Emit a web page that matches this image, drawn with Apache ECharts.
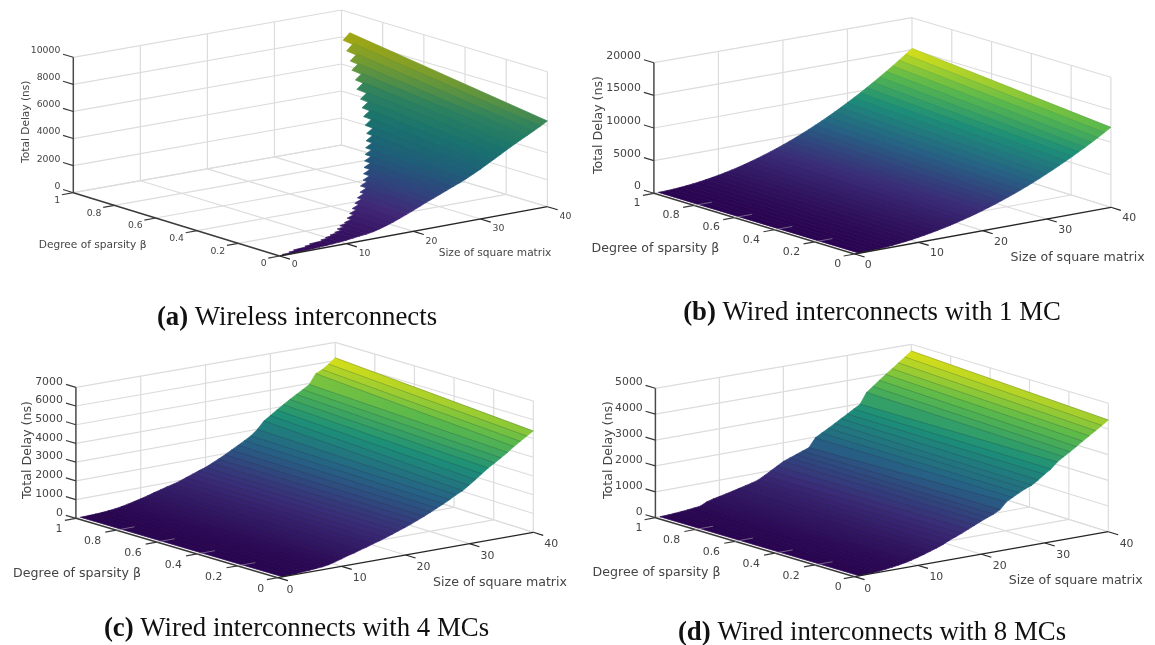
<!DOCTYPE html>
<html>
<head>
<meta charset="utf-8">
<title>Total delay surfaces</title>
<style>html,body{margin:0;padding:0;background:#fff}#chart{width:1155px;height:645px}</style>
<script src="https://cdn.jsdelivr.net/npm/echarts@6/dist/echarts.min.js"></script>
</head>
<body>
<div id="chart"></div>
<script>
// ---------- data ----------
var sizes = [0.7,2,3,4,5,6,7,8,9,10,11,12,13,14,15,16,17,18,19,20,21,22,23,24,25,26,27,28,29,30,31,32,33,34,35,36,37,38,39,40];
var sizeTicks = [0,10,20,30,40];
var betaTicks = [0,0.2,0.4,0.6,0.8,1];

// Panel (a) wireless: the surface only exists up to a largest beta for each size
var wirelessBetaMax = [.01,.01,.02,.03,.03,.04,.05,.05,.06,.07,.08,.09,.11,.13,.14,.16,.18,.20,.22,.24,.26,.29,.31,.34,.37,.40,.43,.46,.49,.52,.56,.60,.64,.68,.73,.77,.82,.86,.91,.96];
var wirelessLow = [5,15,35,60,85,110,140,170,215,260,320,380,430,520,640,790,960,1150,1340,1550,1760,1970,2170,2370,2570,2770,2970,3190,3430,3680,3950,4220,4490,4770,5040,5300,5550,5800,6070,6350];
var wirelessHigh = [5,15,35,60,85,110,140,172,217,268,330,395,450,545,684,844,1029,1236,1451,1684,1920,2167,2407,2650,2900,3158,3419,3706,4030,4360,4730,5109,5480,5886,6310,6715,7122,7559,8030,8500];

// Panel (b) wired, 1 MC
var wired1Low = [8,30,70,125,190,275,375,490,620,770,930,1110,1300,1510,1730,1970,2220,2490,2770,3070,3390,3720,4060,4430,4800,5190,5600,6020,6460,6920,7390,7870,8370,8880,9410,9950,10510,11080,11680,12300];
var wired1High = [10,38,85,152,238,342,466,608,770,950,1150,1368,1606,1862,2138,2432,2746,3078,3430,3800,4190,4598,5026,5472,5938,6422,6926,7448,7990,8550,9130,9728,10346,10982,11638,12312,13006,13718,14450,15200];

// Panel (c) wired, 4 MCs
var wired4Low = [10,25,45,70,95,125,155,210,300,400,510,590,700,790,900,1000,1110,1230,1350,1470,1600,1740,1880,2040,2200,2360,2530,2720,2880,3110,3350,3600,3850,4060,4270,4500,4750,4970,5190,5400];
var wired4High = [10,20,30,50,80,115,170,240,320,400,490,590,680,780,860,960,1090,1210,1340,1450,1610,1770,1940,2130,2320,2510,2710,3000,3390,3620,3860,4090,4310,4520,4720,4940,5470,5630,5870,6150];

// Panel (d) wired, 8 MCs
var wired8Low = [5,15,30,50,80,110,150,195,250,320,390,470,550,640,760,850,950,1060,1170,1280,1380,1470,1600,1860,1990,2120,2240,2330,2490,2670,2830,3060,3220,3370,3530,3700,3860,4020,4180,4350];
var wired8High = [5,15,30,50,70,95,125,240,310,360,415,470,530,590,650,720,850,990,1130,1270,1360,1450,1540,1630,1970,2110,2250,2390,2540,2680,2830,2980,3400,3590,3790,3980,4160,4350,4540,4735];

var zTicksA = [0,2000,4000,6000,8000,10000];
var zTicksB = [0,5000,10000,15000,20000];
var zTicksC = [0,1000,2000,3000,4000,5000,6000,7000];
var zTicksD = [0,1000,2000,3000,4000,5000];

var sizeTitle = 'Size of square matrix';
var betaTitle = 'Degree of sparsity \u03b2';
var zTitle = 'Total Delay (ns)';

// ---------- colour ramps (position, colour) ----------
var rampOlive = [[0,[50,10,90]],[.15,[65,40,120]],[.28,[45,70,125]],[.4,[30,95,120]],[.55,[25,115,110]],[.7,[45,130,95]],[.85,[115,155,50]],[1,[172,170,12]]];
var rampYellow = [[0,[42,4,82]],[.2,[58,44,120]],[.4,[38,98,133]],[.6,[28,143,120]],[.8,[92,186,75]],[1,[225,225,20]]];

// ---------- panels: view geometry and styling ----------
var panels = [
 {low:wirelessLow, high:wirelessHigh, betaMax:wirelessBetaMax, zTicks:zTicksA, ramp:rampOlive, rowAlpha:.05, stubs:false,
  o:[279.6,256], s:[547.4,206.7], b:[73.3,192.7], k:[341.5,145],
  bt:[73.3,57.3], kt:[341.5,10], st:[547.4,71.7],
  rect:[0,0,577,290], tickFont:9.3, titleFont:10.6,
  zOff:[-13,-6.5], sOff:[18,10], s0Off:[15,9], bOff:[-20.5,8], bIntOff:[-16,8],
  zPos:[25.9,121.7], bPos:[92.6,245], sPos:[495,253.3]},
 {low:wired1Low, high:wired1High, zTicks:zTicksB, ramp:rampYellow, rowAlpha:.10, stubs:true,
  o:[854.6,254], s:[1110.9,207.3], b:[653.9,193.3], k:[912,145.7],
  bt:[653.9,62.7], kt:[912,17.7], st:[1110.9,77.3],
  rect:[577,0,578,290], tickFont:10.9, titleFont:12.6,
  zOff:[-13,-6.7], sOff:[18.3,11.3], s0Off:[13.7,11], bOff:[-23,10], bIntOff:[-17,10],
  zPos:[599,125], bPos:[655.4,248.3], sPos:[1077.6,257.3]},
 {low:wired4Low, high:wired4High, zTicks:zTicksC, ramp:rampYellow, rowAlpha:.22, stubs:true,
  o:[277.8,577.7], s:[533.3,532.3], b:[75.9,518.3], k:[335.2,470],
  bt:[75.9,387.3], kt:[335.2,342.3], st:[533.3,401],
  rect:[0,335,577,300], tickFont:10.9, titleFont:12.6,
  zOff:[-13,-5.6], sOff:[18,12.2], s0Off:[12.2,12.3], bOff:[-23.7,10.9], bIntOff:[-17,11],
  zPos:[27.8,450], bPos:[77,574], sPos:[500,582.3]},
 {low:wired8Low, high:wired8High, zTicks:zTicksD, ramp:rampYellow, rowAlpha:.22, stubs:true,
  o:[854.6,576.7], s:[1108.3,531.7], b:[655.4,517.7], k:[911.3,470],
  bt:[655.4,388.3], kt:[911.3,344.3], st:[1108.3,403.3],
  rect:[577,335,578,300], tickFont:10.9, titleFont:12.6,
  zOff:[-12.6,-6], sOff:[18.3,12], s0Off:[13,12.3], bOff:[-23.7,10.8], bIntOff:[-16.4,10.8],
  zPos:[608.3,450], bPos:[656.5,572.7], sPos:[1075.7,581]}
];

var captions = [
 {tag:'(a)', text:' Wireless interconnects', x:292, y:313},
 {tag:'(b)', text:' Wired interconnects with 1 MC', x:867, y:308},
 {tag:'(c)', text:' Wired interconnects with 4 MCs', x:291.5, y:624},
 {tag:'(d)', text:' Wired interconnects with 8 MCs', x:867, y:628}
];

// ---------- helpers ----------
function lerp(a,b,t){return a+(b-a)*t;}
function lerp2(a,b,t){return [lerp(a[0],b[0],t),lerp(a[1],b[1],t)];}
// map (size, beta, delay) of a panel to page position through the 8 corners of its box
function project(p,s,beta,z){
  var u=s/40, v=beta, w=z/p.zTicks[p.zTicks.length-1];
  var ot=[p.st[0]+p.bt[0]-p.kt[0], p.st[1]+p.bt[1]-p.kt[1]];
  var base=lerp2(lerp2(p.o,p.s,u),lerp2(p.b,p.k,u),v);
  var top=lerp2(lerp2(ot,p.st,u),lerp2(p.bt,p.kt,u),v);
  return lerp2(base,top,w);
}
function rampColor(ramp,t){
  t=Math.max(0,Math.min(1,t));
  for(var i=1;i<ramp.length;i++){
    if(t<=ramp[i][0]){
      var f=(t-ramp[i-1][0])/(ramp[i][0]-ramp[i-1][0]), a=ramp[i-1][1], b=ramp[i][1];
      return 'rgb('+Math.round(lerp(a[0],b[0],f))+','+Math.round(lerp(a[1],b[1],f))+','+Math.round(lerp(a[2],b[2],f))+')';
    }
  }
  return 'rgb('+ramp[ramp.length-1][1].join(',')+')';
}
function peak(p){return Math.max.apply(null,p.high.concat(p.low));}

var GRID='#dcdcdc', TEXT='#444';

function panelSeries(p,idx){
  var zMax=p.zTicks[p.zTicks.length-1];
  var out=[];
  function toPix(api,pt){return api.coord(pt);}

  // back walls and floor
  var wallLines=[];
  p.zTicks.forEach(function(z){ wallLines.push([0,1,z,40,1,z]); wallLines.push([40,1,z,40,0,z]); });
  sizeTicks.slice(1).forEach(function(s){ wallLines.push([s,1,0,s,1,zMax]); wallLines.push([s,0,0,s,1,0]); });
  betaTicks.slice(0,-1).forEach(function(b){ wallLines.push([40,b,0,40,b,zMax]); });
  betaTicks.slice(1).forEach(function(b){ wallLines.push([0,b,0,40,b,0]); });
  out.push({type:'custom',xAxisIndex:idx,yAxisIndex:idx,silent:true,animation:false,clip:false,z:1,
    data:wallLines,encode:{x:[],y:[]},
    renderItem:function(par,api){
      var a=toPix(api,project(p,api.value(0),api.value(1),api.value(2)));
      var b=toPix(api,project(p,api.value(3),api.value(4),api.value(5)));
      return {type:'line',shape:{x1:a[0],y1:a[1],x2:b[0],y2:b[1]},style:{stroke:GRID,lineWidth:1.2}};
    }});

  // surface rows, far rows first
  var rows=[];
  for(var i=sizes.length-1;i>=1;i--){
    var bm=p.betaMax?p.betaMax[i]:1;
    rows.push([sizes[i-1],sizes[i],p.low[i-1],p.low[i],p.high[i-1],p.high[i],bm]);
  }
  var zPeak=peak(p);
  out.push({type:'custom',xAxisIndex:idx,yAxisIndex:idx,silent:true,animation:false,clip:false,z:2,
    data:rows,encode:{x:[],y:[]},
    renderItem:function(par,api){
      var s0=api.value(0),s1=api.value(1),l0=api.value(2),l1=api.value(3),h0=api.value(4),h1=api.value(5),bm=api.value(6);
      var a=toPix(api,project(p,s0,0,l0)), b=toPix(api,project(p,s1,0,l1));
      var c=toPix(api,project(p,s1,bm,h1)), d=toPix(api,project(p,s0,bm,h0));
      var m0=(l0+l1)/2, m1=(h0+h1)/2, stops=[];
      for(var t=0;t<=4;t++){ stops.push({offset:t/4,color:rampColor(p.ramp,lerp(m0,m1,t/4)/zPeak)}); }
      var mx0=(a[0]+b[0])/2,my0=(a[1]+b[1])/2,mx1=(c[0]+d[0])/2,my1=(c[1]+d[1])/2;
      var grad=new echarts.graphic.LinearGradient(mx0,my0,mx1+.01,my1+.01,stops,true);
      return {type:'group',children:[
        {type:'polygon',shape:{points:[a,b,c,d]},style:{fill:grad,stroke:grad,lineWidth:.7}},
        {type:'line',shape:{x1:b[0],y1:b[1],x2:c[0],y2:c[1]},style:{stroke:'rgba(0,0,0,'+p.rowAlpha+')',lineWidth:.8}}
      ]};
    }});

  // axes, ticks and faint floor stubs that show through at the surface's low end
  var axisLines=[
    [0,1,0,0,1,zMax,'#4a4a4a',1.5],
    [0,0,0,40,0,0,'#262626',1.3],
    [0,0,0,0,1,0,'#3a3a3a',1.5]
  ];
  p.zTicks.forEach(function(z){axisLines.push([0,1,z,0,1.05,z,'#3a3a3a',1.2]);});
  sizeTicks.forEach(function(s){axisLines.push([s,0,0,s,-.05,0,'#262626',1.2]);});
  betaTicks.forEach(function(b){axisLines.push([0,b,0,-1.7,b,0,'#3a3a3a',1.2]);});
  if(p.stubs){betaTicks.slice(1,-1).forEach(function(b){axisLines.push([0,b,0,2.8,b,0,'rgba(190,190,190,.55)',.9]);});}
  out.push({type:'custom',xAxisIndex:idx,yAxisIndex:idx,silent:true,animation:false,clip:false,z:3,
    data:axisLines,encode:{x:[],y:[]},
    renderItem:function(par,api){
      var a=toPix(api,project(p,api.value(0),api.value(1),api.value(2)));
      var b=toPix(api,project(p,api.value(3),api.value(4),api.value(5)));
      return {type:'line',shape:{x1:a[0],y1:a[1],x2:b[0],y2:b[1]},style:{stroke:api.value(6),lineWidth:api.value(7)}};
    }});

  // tick labels
  var labels=[];
  p.zTicks.forEach(function(z){var q=project(p,0,1,z);labels.push({q:[q[0]+p.zOff[0],q[1]+p.zOff[1]],t:String(z),al:'right'});});
  sizeTicks.forEach(function(s){var q=project(p,s,0,0),o=s===0?p.s0Off:p.sOff;labels.push({q:[q[0]+o[0],q[1]+o[1]],t:String(s),al:'center'});});
  betaTicks.forEach(function(b){var q=project(p,0,b,0),o=(b===0||b===1)?p.bIntOff:p.bOff;labels.push({q:[q[0]+o[0],q[1]+o[1]],t:String(b),al:'center'});});
  out.push({type:'custom',xAxisIndex:idx,yAxisIndex:idx,silent:true,animation:false,clip:false,z:4,
    data:labels.map(function(l,i){return [l.q[0],l.q[1],i];}),encode:{x:0,y:1},
    renderItem:function(par,api){
      var c=toPix(api,[api.value(0),api.value(1)]), l=labels[api.value(2)];
      return {type:'text',x:c[0],y:c[1],style:{text:l.t,fill:TEXT,font:p.tickFont+'px "DejaVu Sans"',align:l.al,verticalAlign:'middle'}};
    }});

  // axis titles
  var titles=[{q:p.zPos,t:zTitle,r:Math.PI/2},{q:p.bPos,t:betaTitle,r:0},{q:p.sPos,t:sizeTitle,r:0}];
  out.push({type:'custom',xAxisIndex:idx,yAxisIndex:idx,silent:true,animation:false,clip:false,z:4,
    data:titles.map(function(l,i){return [l.q[0],l.q[1],i];}),encode:{x:0,y:1},
    renderItem:function(par,api){
      var c=toPix(api,[api.value(0),api.value(1)]), l=titles[api.value(2)];
      return {type:'text',x:c[0],y:c[1],rotation:l.r,style:{text:l.t,fill:TEXT,font:p.titleFont+'px "DejaVu Sans"',align:'center',verticalAlign:'middle'}};
    }});
  return out;
}

var series=[];
panels.forEach(function(p,i){series=series.concat(panelSeries(p,i));});

var option={
  backgroundColor:'#fff',
  animation:false,
  title:captions.map(function(c){
    return {text:'{b|'+c.tag+'}{n|'+c.text+'}',left:c.x,top:c.y,textAlign:'center',textVerticalAlign:'middle',
      textStyle:{fontWeight:'normal',rich:{
        b:{fontFamily:'Liberation Serif',fontWeight:'bold',fontSize:26.8,color:'#111'},
        n:{fontFamily:'Liberation Serif',fontWeight:'normal',fontSize:26.8,color:'#111'}}}};
  }),
  grid:panels.map(function(p){return {left:p.rect[0],top:p.rect[1],width:p.rect[2],height:p.rect[3],show:false};}),
  xAxis:panels.map(function(p,i){return {type:'value',gridIndex:i,show:false,min:p.rect[0],max:p.rect[0]+p.rect[2]};}),
  yAxis:panels.map(function(p,i){return {type:'value',gridIndex:i,show:false,inverse:true,min:p.rect[1],max:p.rect[1]+p.rect[3]};}),
  series:series
};
echarts.init(document.getElementById('chart'),null,{renderer:'canvas'}).setOption(option);
</script>
</body>
</html>
